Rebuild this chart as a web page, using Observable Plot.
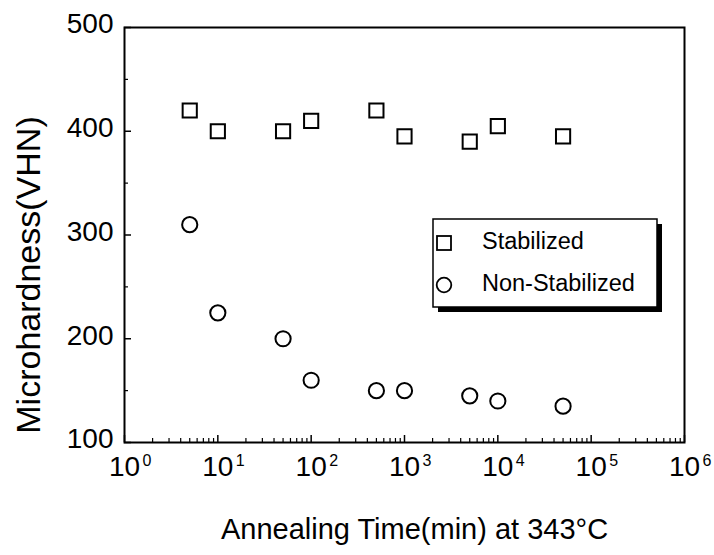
<!DOCTYPE html>
<html><head><meta charset="utf-8">
<script src="https://cdn.jsdelivr.net/npm/d3@7"></script>
<script src="https://cdn.jsdelivr.net/npm/@observablehq/plot@0.6"></script>
<style>body{margin:0;background:#fff}#chart{width:714px;height:555px}</style>
</head><body><div id="chart"></div>
<script>
const times = [5, 10, 50, 100, 500, 1000, 5000, 10000, 50000];
const stabilized = [420, 400, 400, 410, 420, 395, 390, 405, 395];
const nonStabilized = [310, 225, 200, 160, 150, 150, 145, 140, 135];
const xTicks = [1, 10, 100, 1000, 10000, 100000, 1000000];
const xTickExp = ["0", "1", "2", "3", "4", "5", "6"];
const yTicks = [100, 200, 300, 400, 500];
const yMinor = [150, 250, 350, 450];
const seriesNames = ["Stabilized", "Non-Stabilized"];
const xTitle = "Annealing Time(min) at 343°C";
const yTitle = "Microhardness(VHN)";

const xMinor = d3.scaleLog().domain([1, 1e6]).ticks().filter(v => !xTicks.includes(v));
const stabData = times.map((t, i) => ({t, v: stabilized[i]}));
const nonData = times.map((t, i) => ({t, v: nonStabilized[i]}));

const W = 714, H = 555, mL = 124, mR = 30, mT = 27, mB = 113;
const pw = W - mL - mR, ph = H - mT - mB;
const font = "'Liberation Sans', Arial, Helvetica, sans-serif";

const chart = Plot.plot({
  width: W, height: H,
  marginLeft: mL, marginRight: mR, marginTop: mT, marginBottom: mB,
  style: {fontFamily: font, background: "#fff", color: "#000"},
  x: {type: "log", domain: [1, 1e6], axis: null},
  y: {domain: [100, 500], axis: null},
  marks: [
    Plot.tickX(xTicks, {x: d => d, stroke: "#000", strokeWidth: 1.5, insetTop: ph - 7}),
    Plot.tickX(xMinor, {x: d => d, stroke: "#000", strokeWidth: 1.2, insetTop: ph - 4}),
    Plot.tickY(yTicks, {y: d => d, stroke: "#000", strokeWidth: 1.5, insetRight: pw - 7}),
    Plot.tickY(yMinor, {y: d => d, stroke: "#000", strokeWidth: 1.2, insetRight: pw - 4}),
    Plot.frame({stroke: "#000", strokeWidth: 2}),
    Plot.dot(stabData, {x: "t", y: "v", symbol: "square", r: 8, stroke: "#000", strokeWidth: 2, fill: "#fff"}),
    Plot.dot(nonData, {x: "t", y: "v", symbol: "circle", r: 7.6, stroke: "#000", strokeWidth: 2, fill: "#fff"}),
    Plot.text(xTicks, {x: d => d, frameAnchor: "bottom", dy: 25, textAnchor: "middle", lineAnchor: "middle", text: () => "10", fontSize: 28, fill: "#000"}),
    Plot.text(xTicks, {x: d => d, frameAnchor: "bottom", dy: 18, dx: 18, textAnchor: "start", lineAnchor: "middle", text: (d, i) => xTickExp[i], fontSize: 16, fill: "#000"}),
    Plot.text(yTicks, {y: d => d, frameAnchor: "left", dx: -11, dy: -3, textAnchor: "end", lineAnchor: "middle", text: d => String(d), fontSize: 28, fill: "#000"}),
    Plot.text([xTitle], {frameAnchor: "bottom", dx: 10, dy: 87, textAnchor: "middle", lineAnchor: "middle", text: d => d, fontSize: 29, fill: "#000"}),
    Plot.text([yTitle], {frameAnchor: "left", dx: -95, dy: 40, rotate: -90, textAnchor: "middle", lineAnchor: "middle", text: d => d, fontSize: 34, fill: "#000"})
  ]
});
document.getElementById("chart").appendChild(chart);

// Legend
const svg = d3.select(chart);
const lg = svg.append("g").attr("font-family", font).attr("text-anchor", "start");
lg.append("rect").attr("x", 438).attr("y", 224).attr("width", 224).attr("height", 88).attr("fill", "#000");
lg.append("rect").attr("x", 433).attr("y", 219).attr("width", 224).attr("height", 88).attr("fill", "#fff").attr("stroke", "#000").attr("stroke-width", 1.5);
lg.append("rect").attr("x", 437).attr("y", 236).attr("width", 14).attr("height", 14).attr("fill", "#fff").attr("stroke", "#000").attr("stroke-width", 1.8);
lg.append("circle").attr("cx", 444).attr("cy", 285).attr("r", 7.3).attr("fill", "#fff").attr("stroke", "#000").attr("stroke-width", 1.8);
lg.append("text").attr("x", 482).attr("y", 249).attr("font-size", 23.5).attr("fill", "#000").attr("text-anchor", "start").text(seriesNames[0]);
lg.append("text").attr("x", 482).attr("y", 291).attr("font-size", 23.5).attr("fill", "#000").attr("text-anchor", "start").text(seriesNames[1]);
</script>
</body></html>
